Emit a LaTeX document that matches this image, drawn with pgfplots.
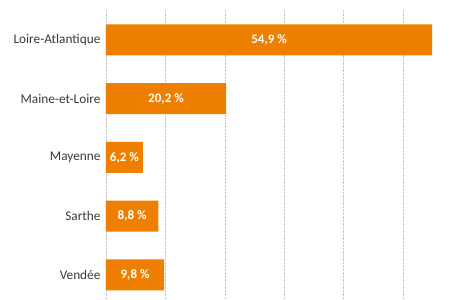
\documentclass[border=0pt]{standalone}
\usepackage{pgfplots}
\pgfplotsset{compat=1.18}
\usepackage{pgfplotstable}
\usepackage{fontspec}
\setmainfont{Carlito}
\definecolor{barorange}{HTML}{EE7F00}
\definecolor{labgray}{HTML}{3A3A3A}
\pgfplotstableread{
y v
4 54.9
3 20.2
2 6.2
1 8.8
0 9.8
}\datatable
\begin{document}
\begin{tikzpicture}[x=1pt,y=1pt]
\useasboundingbox (-106,0) rectangle (344,300);
\begin{axis}[
  at={(0,0)}, anchor=south west,
  scale only axis,
  width=344pt, height=290pt,
  xmin=0, xmax=57.9,
  ymin=-0.4255, ymax=4.51,
  axis line style={draw=none},
  major tick length=0pt,
  xtick={0,10,20,30,40,50},
  xticklabels={},
  xmajorgrids,
  major grid style={densely dotted, gray!45, line width=0.6pt},
  ytick={0,1,2,3,4},
  yticklabels={Vendée,Sarthe,Mayenne,Maine-et-Loire,Loire-Atlantique},
  yticklabel style={font=\fontsize{13.3}{15}\selectfont, text=labgray, anchor=east, xshift=-2pt},
  clip=false,
  /pgf/number format/assume math mode=true,
]
\addplot[xbar, bar width=31pt, fill=barorange, draw=none] table[x=v, y=y] {\datatable};
\addplot[draw=none, mark=none,
  point meta={\thisrow{v}},
  nodes near coords={\pgfmathprintnumber[use comma, fixed, fixed zerofill, precision=1, assume math mode=true]{\pgfplotspointmeta}~\%},
  every node near coord/.style={anchor=center, text=white, font=\bfseries\fontsize{13}{15}\selectfont},
] table[x expr=\thisrow{v}/2, y=y] {\datatable};
\end{axis}
\end{tikzpicture}
\end{document}
